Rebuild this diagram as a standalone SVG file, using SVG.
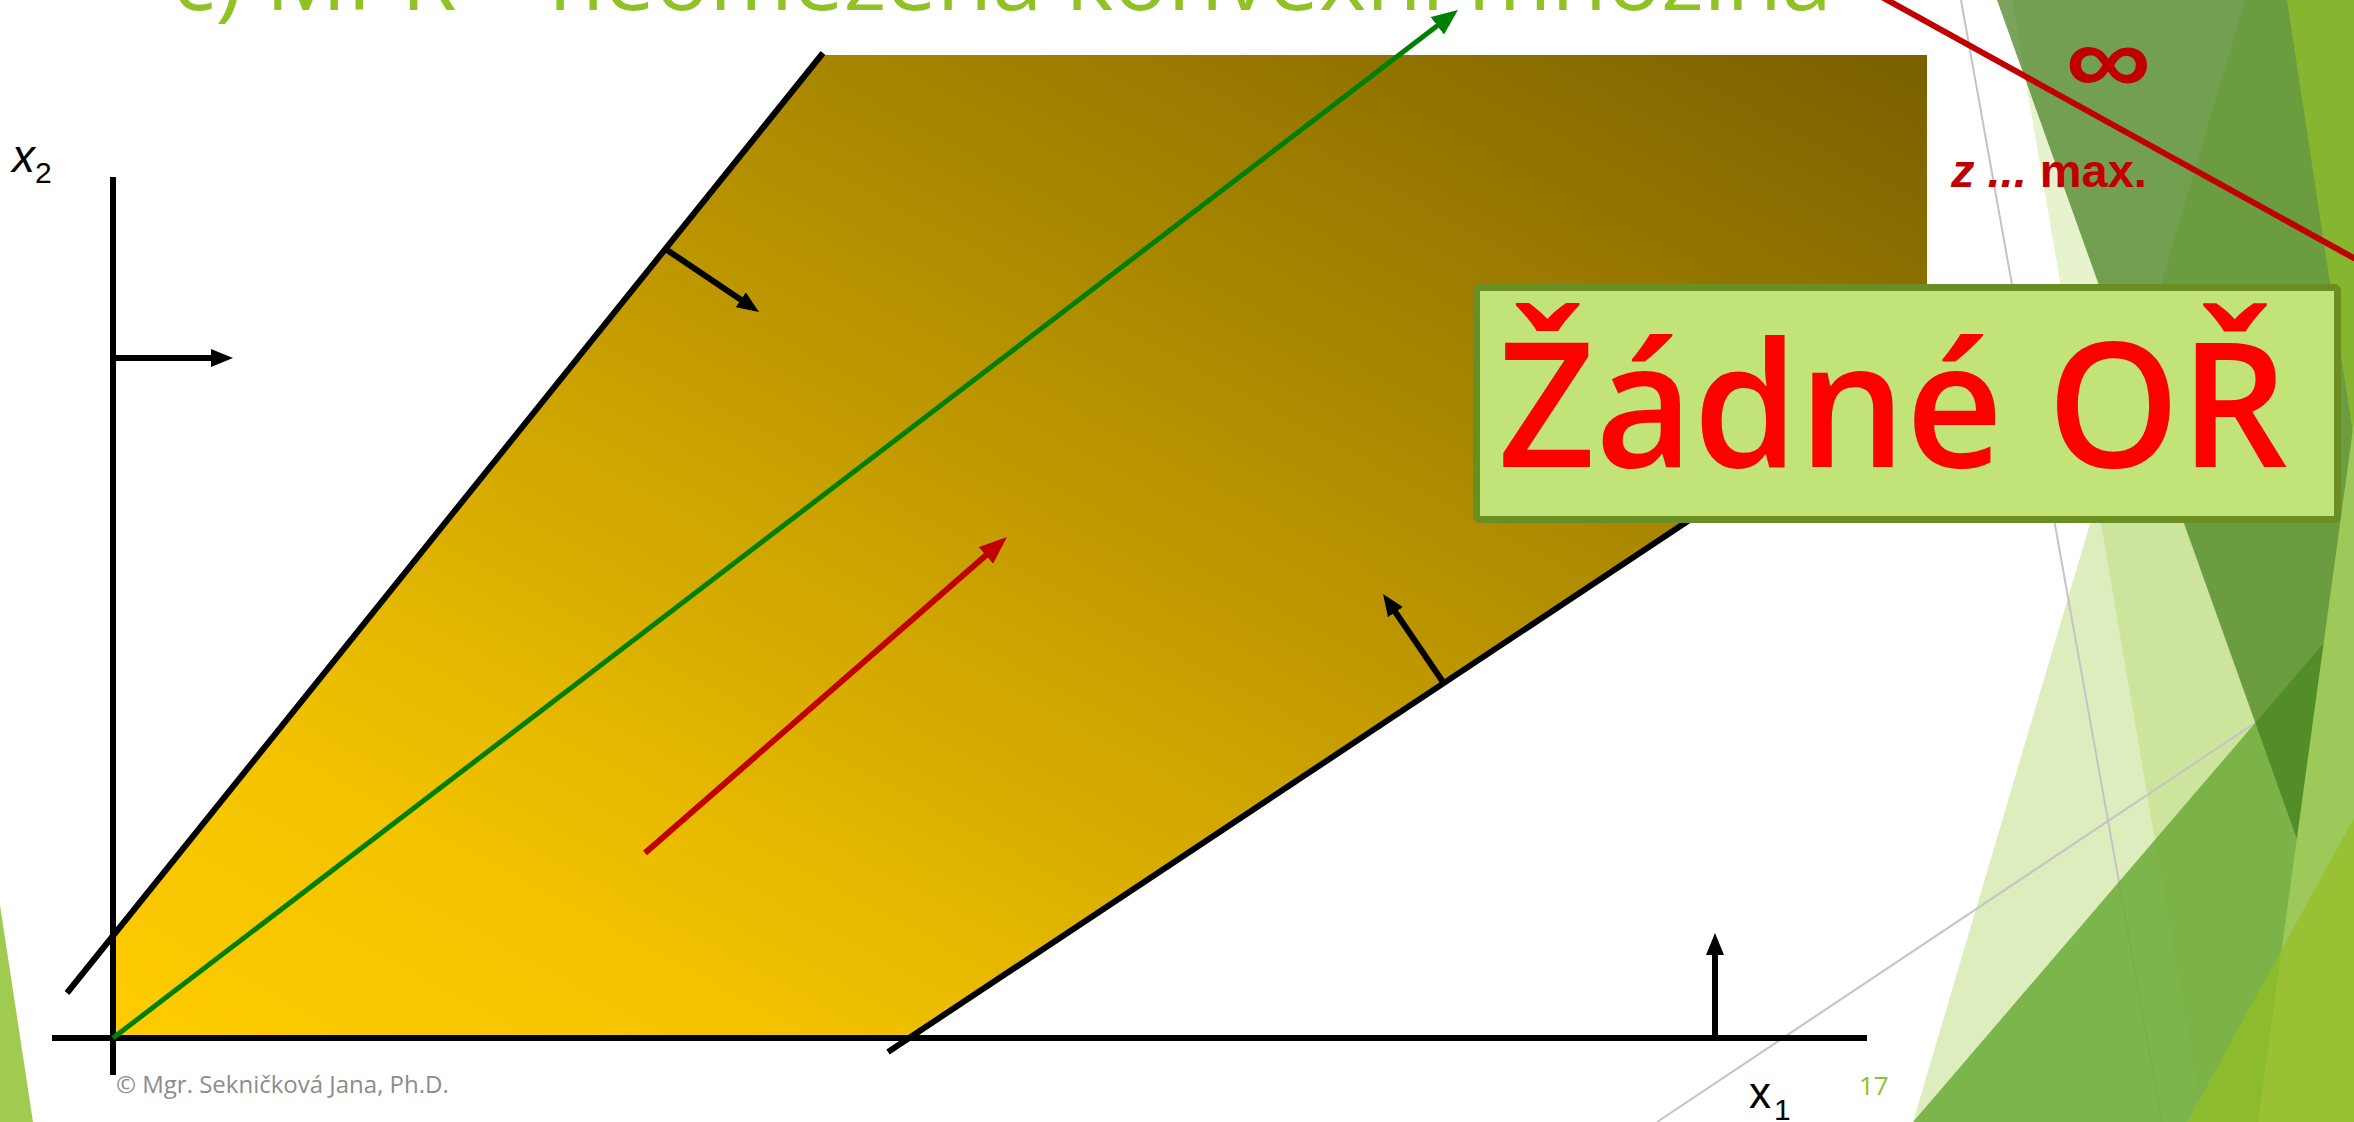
<svg xmlns="http://www.w3.org/2000/svg" width="2354" height="1122" viewBox="0 0 2354 1122">
<style>
.axis{stroke:#000;stroke-width:6;fill:none}
.bound{stroke:#000;stroke-width:6;fill:none}
.normal{stroke:#000;stroke-width:6;fill:none;marker-end:url(#arrBlack)}
.grayline{stroke:#C4C4C4;stroke-width:2;fill:none}
.lbl{font-family:"Liberation Sans",Arial,sans-serif;fill:#000}
.red{fill:#C00000;font-family:"Liberation Sans",Arial,sans-serif;font-weight:bold}
</style>
<defs>
<linearGradient id="gold" x1="0" y1="1" x2="1" y2="0">
<stop offset="0" stop-color="#FFCC00"/>
<stop offset="0.2" stop-color="#F2C200"/>
<stop offset="1" stop-color="#7A6000"/>
</linearGradient>
<marker id="arrBlack" markerUnits="userSpaceOnUse" markerWidth="22" markerHeight="18" refX="2" refY="9" orient="auto"><path d="M0,0 L22,9 L0,18 Z" fill="#000"/></marker>
<marker id="arrGreen" markerUnits="userSpaceOnUse" markerWidth="26" markerHeight="22" refX="2" refY="11" orient="auto"><path d="M0,0 L26,11 L0,22 Z" fill="#008000"/></marker>
<marker id="arrRed" markerUnits="userSpaceOnUse" markerWidth="28" markerHeight="22" refX="2" refY="11" orient="auto"><path d="M0,0 L28,11 L0,22 Z" fill="#C00000"/></marker>
</defs>
<rect width="2354" height="1122" fill="#FFFFFF"/>
<g id="background">
<polygon points="0,905 33,1122 0,1122" fill="#A0CB51"/>
<polygon points="2012,0 2360,0 2360,1122 2203,1122" fill="#90C226" fill-opacity="0.22"/>
<polygon points="2245,0 2360,0 2360,1122 1913,1122" fill="#90C226" fill-opacity="0.3"/>
<line class="grayline" x1="1961" y1="0" x2="2162" y2="1122"/>
<line class="grayline" x1="1657" y1="1122" x2="2354" y2="657"/>
<polygon points="1913,1122 2400,554 2400,1122" fill="#6CAA3A" fill-opacity="0.85"/>
<polygon points="1997,0 2400,0 2400,1122 2398,1122" fill="#417E1A" fill-opacity="0.7"/>
<polygon points="2287,0 2360,0 2360,480" fill="#8DBD2A" fill-opacity="0.8"/>
<polygon points="2360,378 2360,1122 2258,1122" fill="#9DC85A"/>
<polygon points="2187,1122 2360,807 2360,1122" fill="#95BF23" fill-opacity="0.7"/>
</g>
<g id="title">
<text x="172" y="10" font-family="Open Sans, sans-serif" font-size="88" fill="#90C226" textLength="1660" lengthAdjust="spacingAndGlyphs">c) MPŘ – neomezená konvexní množina</text>
</g>
<g id="feasible-region">
<polygon points="113,1038 113,937 821,55 1927,55 1927,362 909,1038" fill="url(#gold)"/>
</g>
<g id="connectors">
<line class="axis" x1="113" y1="177" x2="113" y2="1075"/>
<line class="axis" x1="52" y1="1038" x2="1867" y2="1038"/>
<line class="bound" x1="67" y1="993" x2="823" y2="53"/>
<line class="bound" x1="888" y1="1052" x2="1700" y2="513"/>
<line class="normal" x1="113" y1="358" x2="213" y2="358"/>
<line class="normal" x1="1715" y1="1038" x2="1715" y2="953"/>
<line class="normal" x1="667" y1="250" x2="742.4" y2="300.8"/>
<line class="normal" x1="1443" y1="682" x2="1394.3" y2="610.5"/>
<line x1="113" y1="1038" x2="1438.9" y2="24.6" stroke="#008000" stroke-width="5" marker-end="url(#arrGreen)"/>
<line x1="645" y1="853" x2="987.4" y2="554.1" stroke="#C00000" stroke-width="6" marker-end="url(#arrRed)"/>
<line x1="1880" y1="-4" x2="2370" y2="267" stroke="#C00000" stroke-width="6"/>
</g>
<g id="label-x2">
<text class="lbl" x="12" y="172" font-size="46" font-style="italic">x</text>
<text class="lbl" x="35" y="183" font-size="30">2</text>
</g>
<g id="label-x1">
<text class="lbl" x="1749" y="1108" font-size="44">x</text>
<text class="lbl" x="1774" y="1120" font-size="30">1</text>
</g>
<g id="infinity">
<text class="red" x="1757" y="94" font-size="100" text-anchor="middle" transform="scale(1.2,1)">∞</text>
</g>
<g id="objective-label">
<text class="red" x="1951" y="187" font-size="47"><tspan font-style="italic">z ...</tspan> max.</text>
</g>
<g id="no-solution-box">
<rect x="1476.5" y="287.5" width="861" height="232" rx="3" fill="#C1E377" stroke="#6B8E23" stroke-width="7"/>
<text x="1498" y="467" font-family="Open Sans, sans-serif" font-weight="600" font-size="174" fill="#FF0000" textLength="790" lengthAdjust="spacingAndGlyphs">Žádné OŘ</text>
</g>
<g id="footer">
<text x="116" y="1093" font-family="Open Sans, sans-serif" font-size="24" fill="#8C8C8C">© Mgr. Sekničková Jana, Ph.D.</text>
<text x="1859" y="1095" font-family="Open Sans, sans-serif" font-size="26" fill="#90C226">17</text>
</g>
</svg>
